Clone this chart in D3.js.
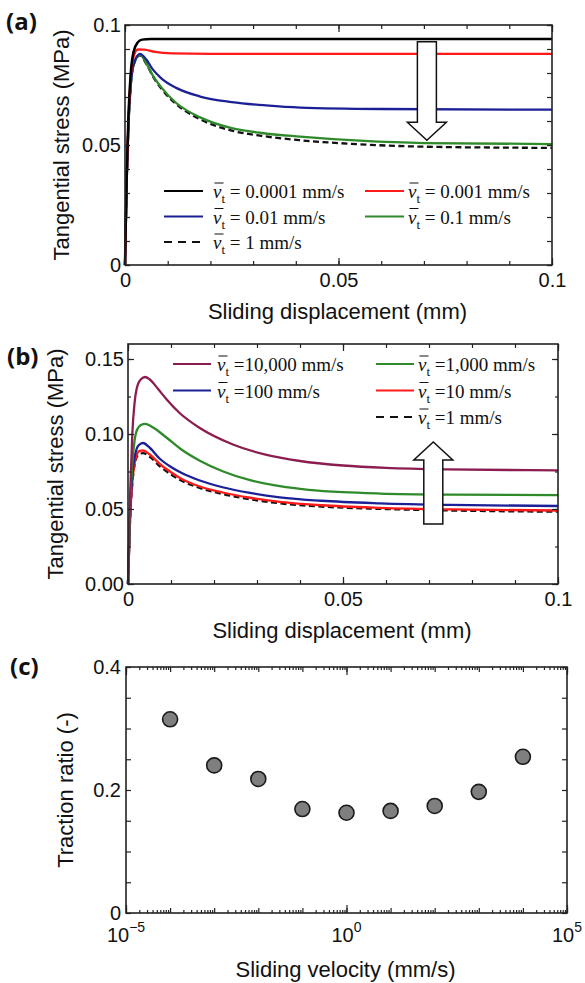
<!DOCTYPE html>
<html>
<head>
<meta charset="utf-8">
<script src="https://cdn.jsdelivr.net/npm/d3@7"></script>
<style>
  body { margin: 0; background: #fff; }
  svg { display: block; }
</style>
</head>
<body>
<svg id="chart" width="585" height="983"></svg>
<script>
// ---- values ----
// (a) tangential stress (MPa) vs sliding displacement (mm), slow velocities
const aV0001 = [[0,0],[0.0004,0.037],[0.0008,0.062],[0.0013,0.079],[0.002,0.0888],[0.003,0.0928],[0.004,0.0939],[0.006,0.0942],[0.03,0.0942],[0.1,0.0942]];
const aV001  = [[0,0],[0.0004,0.036],[0.0008,0.060],[0.0013,0.077],[0.002,0.0868],[0.003,0.0898],[0.0045,0.0897],[0.007,0.0888],[0.011,0.0882],[0.02,0.0880],[0.1,0.0880]];
const aV01   = [[0,0],[0.0004,0.035],[0.0008,0.058],[0.0013,0.074],[0.002,0.0835],[0.0035,0.0880],[0.005,0.0856],[0.0065,0.0815],[0.0085,0.0778],[0.012,0.0738],[0.0176,0.0702],[0.025,0.0679],[0.033,0.0665],[0.041,0.0656],[0.06,0.0650],[0.1,0.0647]];
const aV1e1  = [[0,0],[0.0004,0.035],[0.0008,0.058],[0.0013,0.074],[0.002,0.0833],[0.0035,0.0876],[0.005,0.0840],[0.0065,0.0790],[0.0085,0.0740],[0.012,0.0675],[0.0176,0.0615],[0.025,0.0570],[0.032,0.0550],[0.041,0.0535],[0.055,0.0518],[0.07,0.0508],[0.1,0.0504]];
const aV1    = [[0,0],[0.0004,0.035],[0.0008,0.058],[0.0013,0.074],[0.002,0.0832],[0.0035,0.0874],[0.005,0.0838],[0.0065,0.0787],[0.0085,0.0735],[0.012,0.0670],[0.0176,0.0607],[0.025,0.0560],[0.032,0.0538],[0.041,0.0520],[0.055,0.0503],[0.07,0.0493],[0.1,0.0488]];

// (b) fast velocities
const bV10000 = [[0,0],[0.0005,0.060],[0.001,0.100],[0.0015,0.120],[0.002,0.130],[0.003,0.1365],[0.004,0.1380],[0.005,0.1365],[0.007,0.1300],[0.009,0.1230],[0.012,0.1140],[0.0167,0.1040],[0.0244,0.0930],[0.032,0.0862],[0.040,0.0820],[0.05,0.0790],[0.06,0.0774],[0.074,0.0764],[0.1,0.0758]];
const bV1000  = [[0,0],[0.0005,0.050],[0.001,0.080],[0.0015,0.095],[0.002,0.102],[0.003,0.1060],[0.004,0.1067],[0.006,0.1040],[0.009,0.0975],[0.0125,0.0895],[0.0167,0.0822],[0.022,0.0752],[0.0284,0.0692],[0.0353,0.0652],[0.042,0.0628],[0.05,0.0612],[0.0586,0.0603],[0.075,0.0596],[0.1,0.0593]];
const bV100   = [[0,0],[0.0005,0.047],[0.001,0.072],[0.0015,0.084],[0.002,0.090],[0.0027,0.0930],[0.0035,0.0940],[0.005,0.0910],[0.0074,0.0835],[0.010,0.0780],[0.0125,0.0740],[0.0167,0.0690],[0.022,0.0645],[0.0284,0.0607],[0.0353,0.0578],[0.045,0.0555],[0.0586,0.0538],[0.075,0.0527],[0.1,0.0520]];
const bV10    = [[0,0],[0.0005,0.045],[0.001,0.068],[0.0015,0.080],[0.002,0.086],[0.0027,0.0888],[0.0035,0.0890],[0.005,0.0865],[0.0074,0.0800],[0.010,0.0745],[0.0125,0.0700],[0.0167,0.0650],[0.022,0.0610],[0.0284,0.0575],[0.0353,0.0548],[0.045,0.0525],[0.0586,0.0508],[0.075,0.0497],[0.1,0.0490]];
const bV1     = [[0,0],[0.0005,0.044],[0.001,0.067],[0.0015,0.079],[0.002,0.0845],[0.0027,0.0868],[0.0035,0.0872],[0.005,0.0850],[0.0074,0.0785],[0.010,0.0730],[0.0125,0.0688],[0.0167,0.0640],[0.022,0.0600],[0.0284,0.0565],[0.0353,0.0538],[0.045,0.0516],[0.0586,0.0501],[0.075,0.0490],[0.1,0.0482]];

// (c) traction ratio vs sliding velocity
const velocities    = [1e-4, 1e-3, 1e-2, 1e-1, 1, 10, 100, 1000, 10000];
const tractionRatio = [0.315, 0.240, 0.218, 0.169, 0.163, 0.166, 0.174, 0.197, 0.254];

// legends and ticks
const legendLabelsA = ["0.0001 mm/s", "0.001 mm/s", "0.01 mm/s", "0.1 mm/s", "1 mm/s"];
const legendLabelsB = ["10,000 mm/s", "1,000 mm/s", "100 mm/s", "10 mm/s", "1 mm/s"];
const dispTickLabels = [0, 0.05, 0.1];
const stressTickLabelsA = [0, 0.05, 0.1];
const stressTickLabelsB = [0, 0.05, 0.10, 0.15];
const ratioTickLabels = [0, 0.2, 0.4];
const velocityTickExps = [-5, 0, 5];

// arrows (data coordinates): x position, tail and tip stress
const arrowA = { x: 0.0707, tail: 0.093, tip: 0.052 };
const arrowB = { x: 0.0710, tail: 0.040, tip: 0.0947 };

// ---- drawing ----
const svg = d3.select('#chart');
const SANS = '"Liberation Sans", Arial, sans-serif';
const SERIF = '"Liberation Serif", "Times New Roman", serif';
const INK = '#222';

const xA = d3.scaleLinear([0, 0.1], [125, 552]);
const yA = d3.scaleLinear([0, 0.1], [265, 25]);
const xB = d3.scaleLinear([0, 0.1], [128, 558]);
const yB = d3.scaleLinear([0, 0.16], [584, 344]);
const xC = d3.scaleLog([1e-5, 1e5], [126, 567]);
const yC = d3.scaleLinear([0, 0.4], [913, 667]);

// inward tick marks on one side of the frame
function ticks(axisFn, scale, values, size, transform) {
  const g = svg.append('g')
    .attr('transform', transform)
    .style('color', INK)
    .call(axisFn(scale).tickValues(values).tickSize(-size).tickFormat(''));
  g.select('.domain').remove();
  g.selectAll('line').attr('stroke-width', 1.2);
  return g;
}

function labels(axisFn, scale, values, fmt, pad, transform) {
  const g = svg.append('g')
    .attr('transform', transform)
    .style('color', INK)
    .call(axisFn(scale).tickValues(values).tickSize(0).tickPadding(pad).tickFormat(fmt));
  g.select('.domain').remove();
  g.attr('font-family', SANS).attr('font-size', 20);
  g.selectAll('text').attr('fill', '#111');
  return g;
}

function frame(x, y) {
  const [x0, x1] = x.range(), [y0, y1] = y.range();
  svg.append('rect')
    .attr('x', x0).attr('y', y1)
    .attr('width', x1 - x0).attr('height', y0 - y1)
    .attr('fill', 'none').attr('stroke', INK).attr('stroke-width', 1.6);
}

function linearFrame(x, y, yMinor, yMajor, yMinorLen, yMajorLen, yLabels, yFmt) {
  const [x0, x1] = x.range(), [y0, y1] = y.range();
  const xMinor = d3.range(0, 11).map(i => i / 100);
  ticks(d3.axisBottom, x, xMinor, 4, `translate(0,${y0})`);
  ticks(d3.axisBottom, x, dispTickLabels, 7, `translate(0,${y0})`);
  ticks(d3.axisTop, x, xMinor, 4, `translate(0,${y1})`);
  ticks(d3.axisTop, x, dispTickLabels, 7, `translate(0,${y1})`);
  ticks(d3.axisLeft, y, yMinor, yMinorLen, `translate(${x0},0)`);
  ticks(d3.axisLeft, y, yMajor, yMajorLen, `translate(${x0},0)`);
  ticks(d3.axisRight, y, yMinor, yMinorLen, `translate(${x1},0)`);
  ticks(d3.axisRight, y, yMajor, yMajorLen, `translate(${x1},0)`);
  frame(x, y);
  labels(d3.axisBottom, x, dispTickLabels, d => String(d), 8, `translate(0,${y0})`);
  labels(d3.axisLeft, y, yLabels, yFmt, 4, `translate(${x0},0)`);
}

function axisTitles(x, y, xTitle, xBase, yTitle, yBase) {
  const [x0, x1] = x.range(), [y0, y1] = y.range();
  svg.append('text')
    .attr('x', (x0 + x1) / 2 - 1).attr('y', xBase)
    .attr('text-anchor', 'middle')
    .attr('font-family', SANS).attr('font-size', 22).attr('fill', '#111')
    .text(xTitle);
  svg.append('text')
    .attr('transform', `translate(${yBase},${(y0 + y1) / 2}) rotate(-90)`)
    .attr('text-anchor', 'middle')
    .attr('font-family', SANS).attr('font-size', 22).attr('fill', '#111')
    .text(yTitle);
}

function panelLabel(txt, x, y) {
  svg.append('text')
    .attr('x', x).attr('y', y)
    .attr('font-family', '"Open Sans", Lato, sans-serif')
    .attr('font-weight', 'bold').attr('font-size', 24).attr('fill', '#111')
    .text(txt);
}

function drawSeries(x, y, list) {
  const line = d3.line().x(d => x(d[0])).y(d => y(d[1])).curve(d3.curveMonotoneX);
  list.forEach(s => {
    svg.append('path')
      .datum(s.data)
      .attr('d', line)
      .attr('fill', 'none')
      .attr('stroke', s.color)
      .attr('stroke-width', s.width || 2.3)
      .attr('stroke-dasharray', s.dash ? '6,3.5' : null);
  });
}

function arrow(x, y, a) {
  const cx = x(a.x), ty = y(a.tail), py = y(a.tip);
  const s = Math.sign(py - ty);
  const hw = 9.5, HW = 19.5, headLen = 18;
  const hb = py - s * headLen;
  const pts = [[cx - hw, ty], [cx + hw, ty], [cx + hw, hb], [cx + HW, hb], [cx, py], [cx - HW, hb], [cx - hw, hb]];
  svg.append('path')
    .attr('d', d3.line()(pts) + 'Z')
    .attr('fill', '#fff').attr('stroke', '#111').attr('stroke-width', 1.5)
    .attr('stroke-linejoin', 'miter');
}

// legend entry: line sample and  v̄_t = value
function legendEntry(s, lx0, lx1, tx, ly, eq) {
  svg.append('line')
    .attr('x1', lx0).attr('x2', lx1).attr('y1', ly).attr('y2', ly)
    .attr('stroke', s.color).attr('stroke-width', 2)
    .attr('stroke-dasharray', s.dash ? '8,6' : null);
  const base = ly + 7;
  const t = svg.append('text')
    .attr('x', tx).attr('y', base)
    .attr('font-family', SERIF).attr('font-size', 19).attr('fill', '#111');
  t.append('tspan').attr('font-style', 'italic').text('v');
  t.append('tspan').attr('font-size', 13).attr('dy', 5).text('t');
  t.append('tspan').attr('dy', -5).text(eq + s.label);
  svg.append('line')
    .attr('x1', tx + 1.5).attr('x2', tx + 10.5)
    .attr('y1', base - 15).attr('y2', base - 15)
    .attr('stroke', '#111').attr('stroke-width', 1);
}

// ---------- panel (a) ----------
const seriesA = [
  { data: aV1,    color: '#111',    dash: true, label: legendLabelsA[4] },
  { data: aV1e1,  color: '#2f8a2a', label: legendLabelsA[3] },
  { data: aV01,   color: '#1c2096', label: legendLabelsA[2] },
  { data: aV001,  color: '#ff1a1a', label: legendLabelsA[1] },
  { data: aV0001, color: '#000',    label: legendLabelsA[0], width: 2.5 }
];
drawSeries(xA, yA, seriesA);
arrow(xA, yA, arrowA);
linearFrame(xA, yA, d3.range(0, 11).map(i => i / 100), stressTickLabelsA, 5, 5,
  stressTickLabelsA, d => String(d));
axisTitles(xA, yA, 'Sliding displacement (mm)', 319, 'Tangential stress (MPa)', 69);
panelLabel('(a)', 6, 30);

const legA = [[4, 0, 0], [3, 1, 0], [2, 0, 1], [1, 1, 1], [0, 0, 2]];
legA.forEach(([i, col, row]) => {
  const lx = col === 0 ? 164 : 365;
  legendEntry(seriesA[i], lx, lx + 39, col === 0 ? 213 : 408, 191 + row * 25.5, ' = ');
});

// ---------- panel (b) ----------
const seriesB = [
  { data: bV1,     color: '#111',    dash: true, label: legendLabelsB[4] },
  { data: bV10,    color: '#ff1a1a', label: legendLabelsB[3] },
  { data: bV100,   color: '#1c2096', label: legendLabelsB[2] },
  { data: bV1000,  color: '#2f8a2a', label: legendLabelsB[1] },
  { data: bV10000, color: '#8c1d50', label: legendLabelsB[0] }
];
drawSeries(xB, yB, seriesB);
arrow(xB, yB, arrowB);
linearFrame(xB, yB, d3.range(0, 7).map(i => i * 0.025), stressTickLabelsB, 3, 6,
  stressTickLabelsB, d3.format('.2f'));
axisTitles(xB, yB, 'Sliding displacement (mm)', 638, 'Tangential stress (MPa)', 63);
panelLabel('(b)', 7, 365);

const legB = [[4, 0, 0], [3, 1, 0], [2, 0, 1], [1, 1, 1], [0, 1, 2]];
legB.forEach(([i, col, row]) => {
  const lx = col === 0 ? 173 : 376;
  legendEntry(seriesB[i], lx, lx + 38, col === 0 ? 217 : 418, 364 + row * 26.5, ' =');
});

// ---------- panel (c) ----------
{
  const [x0, x1] = xC.range(), [y0, y1] = yC.range();
  const decades = d3.range(-5, 6).map(e => Math.pow(10, e));
  const minor = [];
  d3.range(-5, 5).forEach(e => d3.range(2, 10).forEach(k => minor.push(k * Math.pow(10, e))));
  const labelled = velocityTickExps.map(e => Math.pow(10, e));
  [[d3.axisBottom, y0], [d3.axisTop, y1]].forEach(([fn, yy]) => {
    ticks(fn, xC, minor, 3, `translate(0,${yy})`);
    ticks(fn, xC, decades, 5, `translate(0,${yy})`);
    ticks(fn, xC, labelled, 8, `translate(0,${yy})`);
  });
  const yTicks = d3.range(0, 9).map(i => i * 0.05);
  ticks(d3.axisLeft, yC, yTicks, 5, `translate(${x0},0)`);
  ticks(d3.axisRight, yC, yTicks, 5, `translate(${x1},0)`);
  frame(xC, yC);
  labels(d3.axisLeft, yC, ratioTickLabels, d => String(d), 5, `translate(${x0},0)`);

  // 10^n labels
  velocityTickExps.forEach(e => {
    const t = svg.append('text')
      .attr('x', xC(Math.pow(10, e))).attr('y', 942)
      .attr('text-anchor', 'middle')
      .attr('font-family', SANS).attr('font-size', 20).attr('fill', '#111');
    t.append('tspan').text('10');
    t.append('tspan').attr('font-size', 14).attr('dy', -10).text(e < 0 ? '\u2212' + (-e) : String(e));
  });

  svg.append('g').selectAll('circle')
    .data(velocities.map((v, i) => [v, tractionRatio[i]]))
    .join('circle')
    .attr('cx', d => xC(d[0])).attr('cy', d => yC(d[1]))
    .attr('r', 7.5)
    .attr('fill', '#7f7f7f').attr('stroke', '#1a1a1a').attr('stroke-width', 1.6);

  axisTitles(xC, yC, 'Sliding velocity (mm/s)', 977, 'Traction ratio (-)', 73);
  panelLabel('(c)', 10, 675);
}
</script>
</body>
</html>
